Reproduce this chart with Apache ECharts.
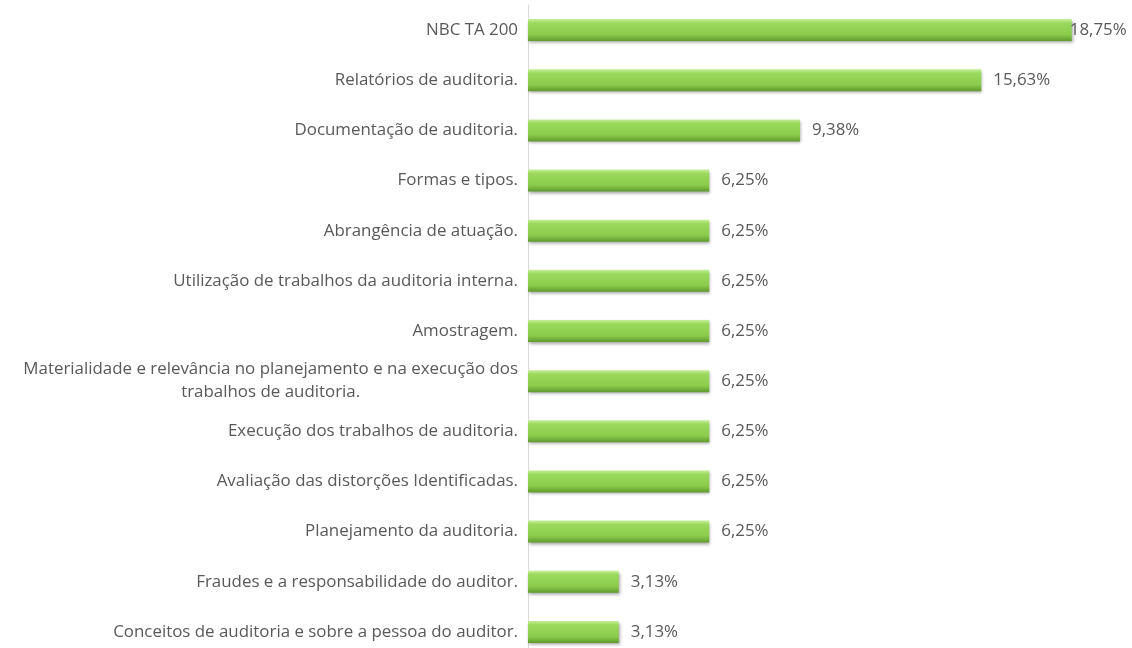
<!DOCTYPE html>
<html>
<head>
<meta charset="utf-8">
<script src="https://cdn.jsdelivr.net/npm/echarts@6/dist/echarts.min.js"></script>
<style>html,body{margin:0;padding:0;background:#fff}#c{width:1132px;height:648px}</style>
</head>
<body>
<div id="c"></div>
<script>
// categories, top to bottom
const topics = [
  "NBC TA 200",
  "Relatórios de auditoria.",
  "Documentação de auditoria.",
  "Formas e tipos.",
  "Abrangência de atuação.",
  "Utilização de trabalhos da auditoria interna.",
  "Amostragem.",
  "Materialidade e relevância no planejamento e na execução dos\ntrabalhos de auditoria.",
  "Execução dos trabalhos de auditoria.",
  "Avaliação das distorções Identificadas.",
  "Planejamento da auditoria.",
  "Fraudes e a responsabilidade do auditor.",
  "Conceitos de auditoria e sobre a pessoa do auditor."
];
const shares = [18.75, 15.63, 9.38, 6.25, 6.25, 6.25, 6.25, 6.25, 6.25, 6.25, 6.25, 3.13, 3.13];

const fmtPct = v => v.toFixed(2).replace('.', ',') + '%';
const font = '"Open Sans", sans-serif';
const fs = 16.9;

const chart = echarts.init(document.getElementById('c'), null, { renderer: 'canvas' });
chart.setOption({
  backgroundColor: '#fff',
  animation: false,
  grid: { left: 528, width: 580, top: 5, height: 652, outerBoundsMode: 'none', containLabel: false },
  xAxis: { type: 'value', min: 0, max: 20, show: false },
  yAxis: {
    type: 'category', data: topics, inverse: true,
    axisLine: { show: true, lineStyle: { color: '#d9d9d9', width: 1 } },
    axisTick: { show: false },
    axisLabel: {
      margin: 10, color: '#595959', fontFamily: font, fontSize: fs,
      formatter: v => v.split('\n').map(s => '{c|' + s + '}').join('\n'),
      rich: { c: { align: 'center', color: '#595959', fontFamily: font, fontSize: fs, lineHeight: 23 } }
    }
  },
  series: [{
    type: 'bar', barWidth: 22,
    data: shares.map((v, i) => i === 0 ? { value: v, label: { distance: -2 } } : v),
    itemStyle: {
      color: new echarts.graphic.LinearGradient(0, 0, 0, 1, [
        { offset: 0, color: '#c6ef9a' },
        { offset: 0.18, color: '#9ad95c' },
        { offset: 0.7, color: '#8ccc4c' },
        { offset: 1, color: '#5f9a2c' }
      ]),
      shadowColor: 'rgba(0,0,0,0.35)', shadowBlur: 3, shadowOffsetX: 1, shadowOffsetY: 2
    },
    label: {
      show: true, position: 'right', distance: 12,
      color: '#595959', fontFamily: font, fontSize: fs,
      formatter: p => fmtPct(p.value)
    }
  }]
});
</script>
</body>
</html>
